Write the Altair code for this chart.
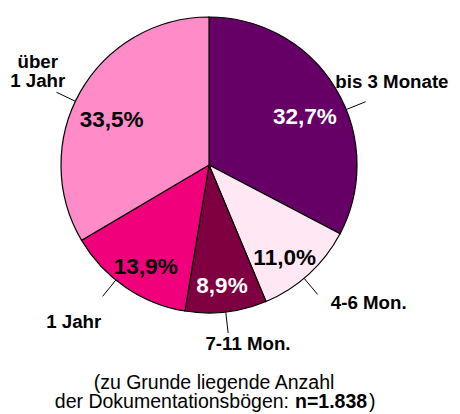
import altair as alt
import numpy as np
import pandas as pd

# ---- data ----
categories = ["bis 3 Monate", "4-6 Mon.", "7-11 Mon.", "1 Jahr", "über 1 Jahr"]
shares = [32.7, 11.0, 8.9, 13.9, 33.5]
pct_labels = ["32,7%", "11,0%", "8,9%", "13,9%", "33,5%"]
outer_labels = ["bis 3 Monate", "4-6 Mon.", "7-11 Mon.", "1 Jahr", "über\n1 Jahr"]
note_line1 = "(zu Grunde liegende Anzahl"
note_line2_a = "der Dokumentationsbögen:"
note_line2_b = "n=1.838"
note_line2_c = ")"

# ---- styles ----
slice_colors = ["#660066", "#FFE8F4", "#7F0040", "#F0007A", "#FF8CC8"]
pct_colors = ["white", "black", "white", "black", "black"]
FONT = "Liberation Sans"

# ---- annotation layout (label placement, degrees clockwise from top / px) ----
label_angle = [65.5, 130.8, 167.7, 220.8, 301.1]
label_radius = [201, 211, 183, 207, 200]
leader_angle = [68, 140, 173.5, 219, 295.5]
R = 148          # pie radius
PCT_R = 112      # radius of percentage labels
LEAD_R2 = 169

W, H = 402, 314  # view; the pie sits in its centre
xs = alt.Scale(domain=[-W / 2, W / 2], nice=False, zero=False)
ys = alt.Scale(domain=[-H / 2, H / 2], nice=False, zero=False)

shares_a = np.array(shares)
cum = np.cumsum(shares_a)
mid = np.radians((cum - shares_a / 2) / cum[-1] * 360)

df = pd.DataFrame({
    "cat": categories,
    "share": shares,
    "order": list(range(len(categories))),
    "pct": pct_labels,
    "pct_color": pct_colors,
    "px": PCT_R * np.sin(mid),
    "py": PCT_R * np.cos(mid),
})

la = np.radians(label_angle)
lab = pd.DataFrame({
    "text": outer_labels,
    "lx": np.array(label_radius) * np.sin(la),
    "ly": np.array(label_radius) * np.cos(la),
})

ld = np.radians(leader_angle)
lead = pd.DataFrame({
    "x1": R * np.sin(ld), "y1": R * np.cos(ld),
    "x2": LEAD_R2 * np.sin(ld), "y2": LEAD_R2 * np.cos(ld),
})

pie = alt.Chart(df).mark_arc(outerRadius=R, stroke="black", strokeWidth=1.2).encode(
    theta=alt.Theta("share:Q", stack=True),
    color=alt.Color("cat:N", scale=alt.Scale(domain=categories, range=slice_colors), legend=None),
    order=alt.Order("order:Q"),
)

pct = alt.Chart(df).mark_text(font=FONT, fontSize=22.5, fontWeight="bold", dy=10, baseline="middle").encode(
    x=alt.X("px:Q", scale=xs, axis=None),
    y=alt.Y("py:Q", scale=ys, axis=None),
    text="pct:N",
    color=alt.Color("pct_color:N", scale=None),
)

leaders = alt.Chart(lead).mark_rule(color="black", strokeWidth=1).encode(
    x=alt.X("x1:Q", scale=xs, axis=None),
    y=alt.Y("y1:Q", scale=ys, axis=None),
    x2="x2:Q",
    y2="y2:Q",
)

outer = alt.Chart(lab).mark_text(font=FONT, fontSize=18.7, fontWeight="bold", color="black",
                                 baseline="middle", lineBreak="\n", lineHeight=19.5).encode(
    x=alt.X("lx:Q", scale=xs, axis=None),
    y=alt.Y("ly:Q", scale=ys, axis=None),
    text="text:N",
)

notes = pd.DataFrame({
    "text": [note_line1, note_line2_a, note_line2_b, note_line2_c],
    "x": [5, 80, 86, 160],
    "y": [-217.5, -237, -237, -237],
    "align": ["center", "right", "left", "left"],
    "weight": ["normal", "normal", "bold", "normal"],
})

note_layers = []
for i in range(len(notes)):
    row = notes.iloc[[i]]
    note_layers.append(
        alt.Chart(row).mark_text(font=FONT, fontSize=19.5, color="black", baseline="middle",
                                 align=row["align"].iloc[0], fontWeight=row["weight"].iloc[0]).encode(
            x=alt.X("x:Q", scale=xs, axis=None),
            y=alt.Y("y:Q", scale=ys, axis=None),
            text="text:N",
        )
    )

chart = alt.layer(pie, pct, leaders, outer, *note_layers).properties(
    width=W, height=H,
    padding={"left": 0, "top": 0, "right": 42, "bottom": 92},
    autosize=alt.AutoSizeParams(type="none"),
).configure_view(stroke=None)

chart.save("out.html", embed_options={"renderer": "svg", "actions": False})
